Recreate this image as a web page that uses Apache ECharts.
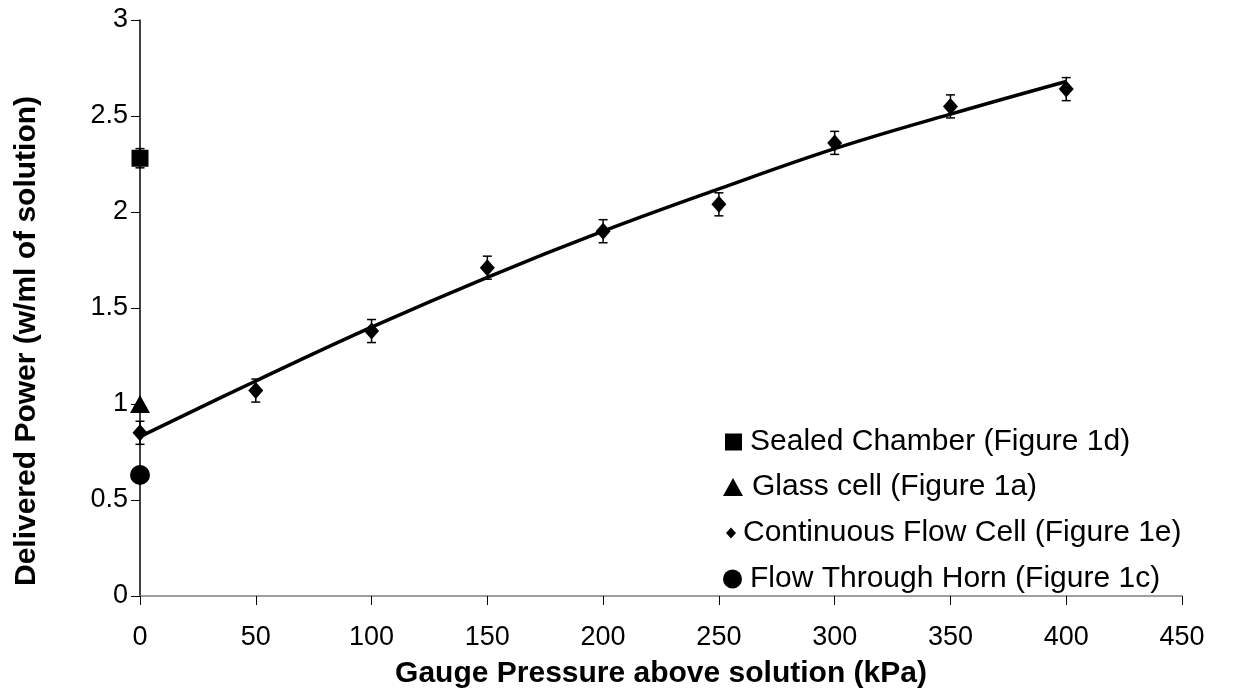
<!DOCTYPE html>
<html>
<head>
<meta charset="utf-8">
<script src="https://cdn.jsdelivr.net/npm/echarts@6/dist/echarts.min.js"></script>
<style>
html,body{margin:0;padding:0;background:#fff;}
#chart{width:1251px;height:700px;}
</style>
</head>
<body>
<div id="chart"></div>
<script>
// ---- data ----
const pressureKPa = [0, 50, 100, 150, 200, 250, 300, 350, 400];
const continuousFlow = [0.85, 1.07, 1.38, 1.71, 1.90, 2.04, 2.36, 2.55, 2.64];
const continuousErr = [0.06, 0.06, 0.06, 0.06, 0.06, 0.06, 0.06, 0.06, 0.06];
const sealedChamberX = [0];
const sealedChamber = [2.28];
const sealedChamberErr = [0.05];
const glassCellX = [0];
const glassCell = [1.0];
const flowHornX = [0];
const flowHorn = [0.63];
const trendX = [0, 50, 100, 150, 200, 250, 300, 350, 400];
const trendY = [0.83, 1.12, 1.40, 1.66, 1.90, 2.12, 2.33, 2.51, 2.68];
const seriesNames = ['Sealed Chamber (Figure 1d)', 'Glass cell (Figure 1a)',
  'Continuous Flow Cell (Figure 1e)', 'Flow Through Horn (Figure 1c)'];
const xTitle = 'Gauge Pressure above solution (kPa)';
const yTitle = 'Delivered Power (w/ml of solution)';

const FONT = 'Liberation Sans, Arial, sans-serif';
const pairs = (xs, ys) => xs.map((x, i) => [x, ys[i]]);
const errData = [];
pressureKPa.forEach((x, i) => errData.push([x, continuousFlow[i] - continuousErr[i], continuousFlow[i] + continuousErr[i]]));
sealedChamberX.forEach((x, i) => errData.push([x, sealedChamber[i] - sealedChamberErr[i], sealedChamber[i] + sealedChamberErr[i]]));

const chart = echarts.init(document.getElementById('chart'), null, {renderer: 'canvas'});

function legendItem(name, icon, w, h, left, top, pad) {
  return {
    data: [{name: name, icon: icon}],
    orient: 'vertical', left: left, top: top,
    itemWidth: w, itemHeight: h, itemGap: 0, padding: 0,
    selectedMode: false,
    itemStyle: {opacity: 1},
    textStyle: {fontFamily: FONT, fontSize: 30, color: '#000', padding: [0, 0, 0, pad]}
  };
}

const option = {
  animation: false,
  backgroundColor: '#fff',
  grid: {left: 140, right: 69, top: 20, bottom: 104, containLabel: false},
  legend: [
    legendItem(seriesNames[0], 'rect', 17, 17, 725, 427, 3),
    legendItem(seriesNames[1], 'triangle', 20, 18, 723, 472, 4),
    legendItem(seriesNames[2], 'diamond', 10, 11, 726, 518, 2),
    legendItem(seriesNames[3], 'circle', 19, 19, 723, 564, 3)
  ],
  xAxis: {
    type: 'value', min: 0, max: 450, interval: 50,
    name: xTitle, nameLocation: 'middle', nameGap: 63,
    nameTextStyle: {fontFamily: FONT, fontSize: 30, fontWeight: 'bold', color: '#000'},
    axisLine: {show: true, lineStyle: {color: '#808080', width: 1.5}},
    axisTick: {show: true, length: 9, lineStyle: {color: '#000', width: 1}},
    axisLabel: {fontFamily: FONT, fontSize: 27, color: '#000', margin: 28},
    splitLine: {show: false}
  },
  yAxis: {
    type: 'value', min: 0, max: 3, interval: 0.5,
    name: yTitle, nameLocation: 'middle', nameGap: 98,
    nameTextStyle: {fontFamily: FONT, fontSize: 30, fontWeight: 'bold', color: '#000', padding: [0, 66, 0, 0]},
    axisLine: {show: true, lineStyle: {color: '#000', width: 1.5}},
    axisTick: {show: true, length: 9, lineStyle: {color: '#000', width: 1}},
    axisLabel: {fontFamily: FONT, fontSize: 27, color: '#000', margin: 12},
    splitLine: {show: false}
  },
  series: [
    {
      name: 'trend', type: 'line', data: pairs(trendX, trendY), smooth: 0.4,
      showSymbol: false, symbol: 'none', silent: true, z: 3,
      lineStyle: {color: '#000', width: 3.5}
    },
    {
      name: 'err', type: 'custom', data: errData, z: 4, silent: true,
      renderItem: function (params, api) {
        const x = api.value(0);
        const lo = api.coord([x, api.value(1)]);
        const hi = api.coord([x, api.value(2)]);
        const cap = 4.5;
        const st = {stroke: '#000', lineWidth: 1.5};
        return {
          type: 'group', children: [
            {type: 'line', shape: {x1: lo[0], y1: lo[1], x2: hi[0], y2: hi[1]}, style: st},
            {type: 'line', shape: {x1: lo[0] - cap, y1: lo[1], x2: lo[0] + cap, y2: lo[1]}, style: st},
            {type: 'line', shape: {x1: hi[0] - cap, y1: hi[1], x2: hi[0] + cap, y2: hi[1]}, style: st}
          ]
        };
      }
    },
    {
      name: seriesNames[0], type: 'scatter', data: pairs(sealedChamberX, sealedChamber),
      symbol: 'rect', symbolSize: 17, clip: false, z: 5, itemStyle: {color: '#000', opacity: 1}
    },
    {
      name: seriesNames[1], type: 'scatter', data: pairs(glassCellX, glassCell),
      symbol: 'triangle', symbolSize: [20, 18], clip: false, z: 5, itemStyle: {color: '#000', opacity: 1}
    },
    {
      name: seriesNames[2], type: 'scatter', data: pairs(pressureKPa, continuousFlow),
      symbol: 'diamond', symbolSize: [15, 17], clip: false, z: 5, itemStyle: {color: '#000', opacity: 1}
    },
    {
      name: seriesNames[3], type: 'scatter', data: pairs(flowHornX, flowHorn),
      symbol: 'circle', symbolSize: 20, clip: false, z: 5, itemStyle: {color: '#000', opacity: 1}
    }
  ]
};
chart.setOption(option);
</script>
</body>
</html>
